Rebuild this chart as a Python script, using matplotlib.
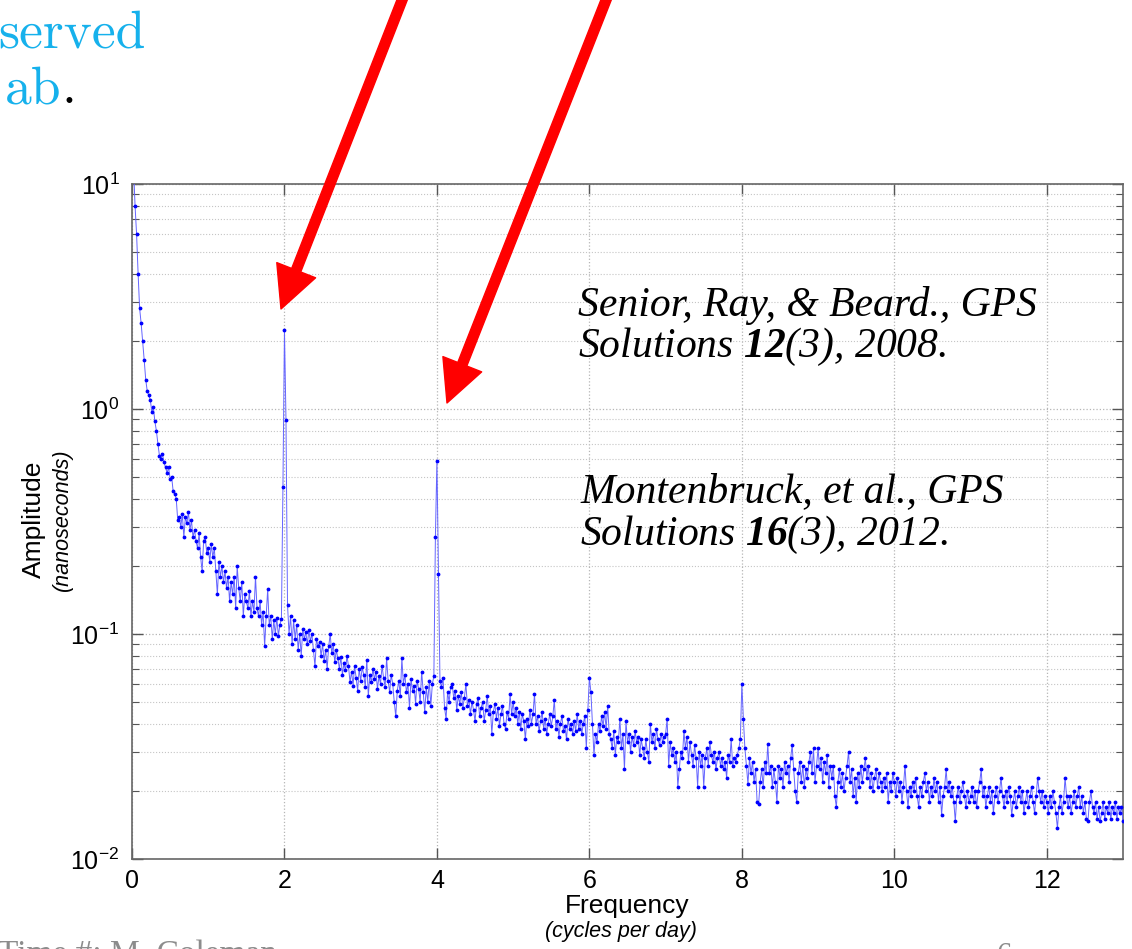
import numpy as np
import matplotlib
matplotlib.use("Agg")
import matplotlib.pyplot as plt
from matplotlib.patches import FancyArrowPatch
from matplotlib.ticker import LogLocator, NullFormatter

# === Spectrum (amplitude in ns, one row = 0.2 cpd) ===
freq_step = 0.02  # cycles per day

amp_0 = [30, 12, 8.0, 6.0, 4.0, 2.8, 2.4, 2.0, 1.65, 1.35,
         1.2, 1.15, 1.1, 0.97, 1.02, 0.88, 0.8, 0.7, 0.62, 0.6,
         0.63, 0.58, 0.55, 0.52, 0.55, 0.49, 0.5, 0.43, 0.42, 0.40,
         0.32, 0.33, 0.30, 0.34, 0.27, 0.33, 0.31, 0.35, 0.29, 0.32,
         0.27, 0.29, 0.26, 0.24, 0.28, 0.22, 0.19, 0.26, 0.27, 0.23]
amp_1 = [0.24, 0.21, 0.25, 0.22, 0.24, 0.19, 0.15, 0.21, 0.18, 0.20,
         0.17, 0.19, 0.16, 0.18, 0.14, 0.17, 0.15, 0.18, 0.13, 0.20,
         0.16, 0.14, 0.17, 0.12, 0.15, 0.14, 0.13, 0.155, 0.12, 0.14,
         0.125, 0.18, 0.13, 0.12, 0.14, 0.11, 0.125, 0.088, 0.12, 0.158,
         0.11, 0.12, 0.095, 0.115, 0.10, 0.118, 0.098, 0.11, 0.117, 0.45]
amp_2 = [2.25, 0.89, 0.135, 0.10, 0.12, 0.09, 0.115, 0.095, 0.11, 0.085,
         0.10, 0.08, 0.105, 0.095, 0.102, 0.09, 0.104, 0.093, 0.10, 0.085,
         0.072, 0.095, 0.088, 0.092, 0.08, 0.09, 0.076, 0.085, 0.07, 0.088,
         0.10, 0.082, 0.09, 0.075, 0.085, 0.078, 0.07, 0.079, 0.066, 0.074,
         0.069, 0.08, 0.072, 0.061, 0.068, 0.059, 0.072, 0.064, 0.056, 0.07]
amp_3 = [0.062, 0.071, 0.066, 0.058, 0.077, 0.053, 0.066, 0.061, 0.07, 0.063,
         0.068, 0.057, 0.065, 0.06, 0.072, 0.064, 0.058, 0.078, 0.062, 0.055,
         0.066, 0.06, 0.05, 0.043, 0.056, 0.062, 0.053, 0.078, 0.06, 0.066,
         0.055, 0.06, 0.047, 0.063, 0.056, 0.059, 0.049, 0.062, 0.057, 0.05,
         0.068, 0.055, 0.045, 0.058, 0.05, 0.062, 0.048, 0.06, 0.065, 0.27]
amp_4 = [0.59, 0.184, 0.062, 0.058, 0.064, 0.047, 0.042, 0.055, 0.05, 0.058,
         0.06, 0.052, 0.056, 0.046, 0.053, 0.049, 0.055, 0.047, 0.052, 0.06,
         0.048, 0.051, 0.044, 0.05, 0.046, 0.041, 0.049, 0.052, 0.043, 0.047,
         0.05, 0.041, 0.046, 0.053, 0.044, 0.048, 0.036, 0.045, 0.049, 0.042,
         0.047, 0.039, 0.044, 0.048, 0.04, 0.038, 0.045, 0.042, 0.054, 0.044]
amp_5 = [0.05, 0.043, 0.047, 0.04, 0.045, 0.038, 0.044, 0.041, 0.034, 0.042,
         0.039, 0.046, 0.04, 0.044, 0.054, 0.04, 0.043, 0.037, 0.041, 0.045,
         0.038, 0.042, 0.036, 0.04, 0.044, 0.039, 0.043, 0.051, 0.038, 0.041,
         0.035, 0.04, 0.043, 0.037, 0.039, 0.034, 0.042, 0.038, 0.04, 0.036,
         0.041, 0.037, 0.044, 0.038, 0.041, 0.036, 0.04, 0.043, 0.031, 0.046]
amp_6 = [0.064, 0.055, 0.04, 0.029, 0.036, 0.033, 0.04, 0.037, 0.043, 0.039,
         0.045, 0.038, 0.048, 0.036, 0.034, 0.031, 0.037, 0.029, 0.035, 0.033,
         0.042, 0.031, 0.036, 0.025, 0.041, 0.033, 0.036, 0.03, 0.035, 0.032,
         0.037, 0.033, 0.035, 0.029, 0.034, 0.031, 0.028, 0.034, 0.03, 0.027,
         0.04, 0.033, 0.036, 0.031, 0.038, 0.034, 0.032, 0.036, 0.033, 0.035]
amp_7 = [0.036, 0.042, 0.026, 0.033, 0.029, 0.031, 0.027, 0.03, 0.021, 0.025,
         0.03, 0.028, 0.037, 0.031, 0.035, 0.027, 0.033, 0.029, 0.026, 0.032,
         0.028, 0.021, 0.03, 0.026, 0.029, 0.021, 0.028, 0.031, 0.026, 0.033,
         0.029, 0.027, 0.03, 0.025, 0.028, 0.03, 0.026, 0.028, 0.025, 0.027,
         0.023, 0.029, 0.027, 0.034, 0.026, 0.028, 0.027, 0.029, 0.031, 0.034]
amp_8 = [0.06, 0.042, 0.031, 0.026, 0.0215, 0.028, 0.024, 0.027, 0.022, 0.025,
         0.018, 0.0175, 0.022, 0.025, 0.021, 0.027, 0.024, 0.0325, 0.024, 0.026,
         0.021, 0.025, 0.022, 0.018, 0.026, 0.023, 0.025, 0.021, 0.027, 0.024,
         0.026, 0.022, 0.028, 0.032, 0.025, 0.02, 0.018, 0.024, 0.027, 0.022,
         0.026, 0.021, 0.025, 0.023, 0.027, 0.03, 0.024, 0.031, 0.022, 0.026]
amp_9 = [0.031, 0.025, 0.028, 0.022, 0.027, 0.024, 0.029, 0.021, 0.026, 0.023,
         0.026, 0.019, 0.017, 0.022, 0.025, 0.021, 0.024, 0.02, 0.023, 0.026,
         0.03, 0.022, 0.025, 0.019, 0.023, 0.018, 0.024, 0.021, 0.026, 0.022,
         0.025, 0.028, 0.023, 0.026, 0.021, 0.024, 0.02, 0.023, 0.025, 0.021,
         0.024, 0.022, 0.02, 0.023, 0.021, 0.024, 0.018, 0.022, 0.02, 0.024]
amp_10 = [0.022, 0.019, 0.023, 0.02, 0.022, 0.018, 0.021, 0.026, 0.02, 0.017,
          0.021, 0.019, 0.022, 0.02, 0.023, 0.019, 0.017, 0.021, 0.019, 0.022,
          0.024, 0.02, 0.022, 0.018, 0.021, 0.019, 0.023, 0.02, 0.022, 0.018,
          0.021, 0.0157, 0.019, 0.021, 0.025, 0.02, 0.022, 0.019, 0.021, 0.018,
          0.0147, 0.019, 0.021, 0.018, 0.02, 0.022, 0.019, 0.017, 0.02, 0.018]
amp_11 = [0.019, 0.021, 0.018, 0.02, 0.017, 0.02, 0.022, 0.025, 0.019, 0.021,
          0.017, 0.019, 0.021, 0.018, 0.02, 0.016, 0.019, 0.021, 0.018, 0.02,
          0.023, 0.019, 0.017, 0.02, 0.018, 0.021, 0.019, 0.0157, 0.018, 0.02,
          0.017, 0.019, 0.021, 0.018, 0.02, 0.016, 0.018, 0.02, 0.017, 0.019,
          0.021, 0.018, 0.016, 0.019, 0.023, 0.02, 0.018, 0.02, 0.017, 0.019]
amp_12 = [0.018, 0.016, 0.019, 0.017, 0.02, 0.018, 0.016, 0.0137, 0.017, 0.019,
          0.016, 0.018, 0.023, 0.019, 0.017, 0.019, 0.016, 0.018, 0.02, 0.017,
          0.019, 0.021, 0.017, 0.019, 0.016, 0.018, 0.015, 0.0147, 0.018, 0.02,
          0.017, 0.016, 0.018, 0.015, 0.017, 0.0147, 0.016, 0.018, 0.015, 0.017,
          0.016, 0.018, 0.015, 0.017, 0.016, 0.018, 0.015, 0.017, 0.016, 0.017,
          0.0147]

xticks = [0, 2, 4, 6, 8, 10, 12]

amp = np.array(amp_0 + amp_1 + amp_2 + amp_3 + amp_4 + amp_5 + amp_6
               + amp_7 + amp_8 + amp_9 + amp_10 + amp_11 + amp_12)
freq = np.arange(len(amp)) * freq_step

# === Fonts ===
plt.rcParams["font.family"] = ["Liberation Sans", "DejaVu Sans"]
plt.rcParams["mathtext.fontset"] = "custom"
plt.rcParams["mathtext.rm"] = "Liberation Sans"
plt.rcParams["mathtext.it"] = "Liberation Sans:italic"
plt.rcParams["mathtext.bf"] = "Liberation Serif:italic:bold"

W, H = 1132, 949
fig = plt.figure(figsize=(W / 100, H / 100), dpi=100)


def px(x, y):
    # pixel position (from top-left) -> figure fraction
    return x / W, 1 - y / H


ax = fig.add_axes([132 / W, 1 - 859 / H, (1123 - 132) / W, (859 - 184) / H])

ax.plot(freq, amp, "-", color="#6464ff", lw=0.7, zorder=3)
ax.plot(freq, amp, ".", color="#0000ff", ms=3.5, zorder=4)

ax.set_yscale("log")
ax.set_xlim(0, 13)
ax.set_ylim(1e-2, 1e1)
ax.set_xticks(xticks)
ax.yaxis.set_minor_locator(LogLocator(base=10, subs=np.arange(2, 10)))
ax.yaxis.set_minor_formatter(NullFormatter())

ax.grid(True, which="major", linestyle=":", color="#b5b5b5", lw=0.9)
ax.grid(True, which="minor", axis="y", linestyle=":", color="#c5c5c5", lw=0.8)
ax.tick_params(which="both", direction="in", top=True, right=True,
               color="#555555", labelsize=18)
ax.tick_params(axis="x", pad=7)
ax.tick_params(axis="y", pad=9)
ax.tick_params(which="major", length=8, width=1)
ax.tick_params(which="minor", length=5, width=0.8)
for s in ax.spines.values():
    s.set_color("#666666")
    s.set_linewidth(1.2)

# axis labels (two lines each)
fig.text(*px(627, 906), "Frequency", ha="center", va="center", fontsize=19)
fig.text(*px(621, 932), "(cycles per day)", ha="center", va="center",
         fontsize=15.5, style="italic")
fig.text(*px(34, 519), "Amplitude", ha="center", va="center", fontsize=19,
         rotation=90)
fig.text(*px(62, 520), "(nanoseconds)", ha="center", va="center", fontsize=15.5,
         style="italic", rotation=90)

# references
ref_kw = dict(fontsize=30, style="italic", family="Liberation Serif",
              ha="left", va="baseline")
fig.text(*px(578, 316), "Senior, Ray, & Beard., GPS", **ref_kw)
fig.text(*px(578, 357), r"Solutions $\mathbf{12}$(3), 2008.", **ref_kw)
fig.text(*px(580, 502), "Montenbruck, et al., GPS", **ref_kw)
fig.text(*px(580, 545), r"Solutions $\mathbf{16}$(3), 2012.", **ref_kw)

# slide text around the chart
fig.text(*px(146, 47), "served", color="#16b1ec", fontsize=38.5,
         family="cmr10", ha="right", va="baseline")
fig.text(*px(61, 103), "ab", color="#16b1ec", fontsize=38.5,
         family="cmr10", ha="right", va="baseline")
fig.text(*px(61, 103), ".", color="black", fontsize=38.5,
         family="cmr10", ha="left", va="baseline")
fig.text(*px(-2, 963), "Time #: M. Coleman", color="#8c8c8c", fontsize=24,
         family="Liberation Serif", ha="left", va="baseline")
fig.text(*px(997, 964), "6", color="#8c8c8c", fontsize=22,
         family="Liberation Serif", ha="left", va="baseline")

# red arrows
arrow_kw = dict(transform=fig.transFigure, color="#ff0000",
                arrowstyle="simple,head_length=30,head_width=30,tail_width=7",
                mutation_scale=1, shrinkA=0, shrinkB=0, zorder=10)
fig.add_artist(FancyArrowPatch(px(406, -10), px(281, 309), **arrow_kw))
fig.add_artist(FancyArrowPatch(px(610, -10), px(447, 403), **arrow_kw))

fig.savefig("out.png", dpi=100)
